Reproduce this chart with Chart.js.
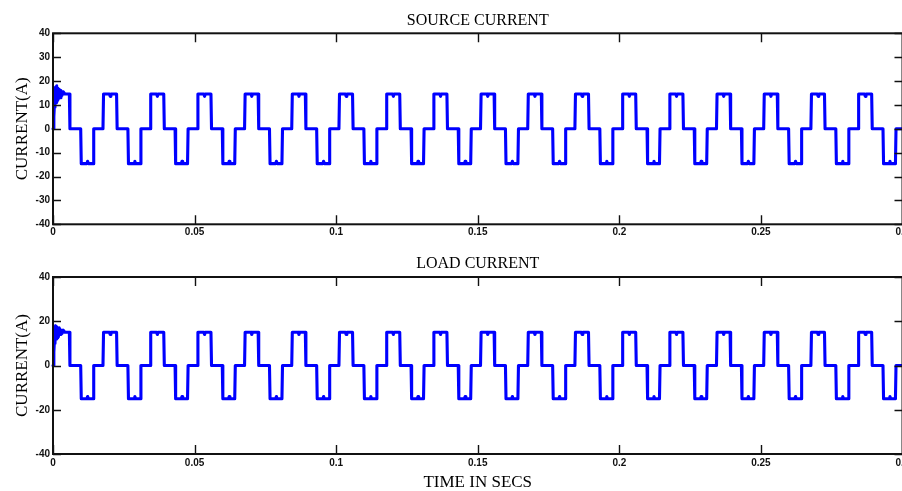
<!DOCTYPE html>
<html>
<head>
<meta charset="utf-8">
<script src="https://cdn.jsdelivr.net/npm/chart.js@4.4.1/dist/chart.umd.min.js"></script>
<style>
  html, body { margin: 0; padding: 0; background: #fff; overflow: hidden; width: 902px; height: 491px; }
  canvas { position: absolute; left: 0; }
  #sourceChart { top: 0; }
  #loadChart { top: 250px; }
</style>
</head>
<body>
<canvas id="sourceChart" width="920" height="250"></canvas>
<canvas id="loadChart" width="920" height="250"></canvas>
<script>
// Sample times in milliseconds (corner points of the six-step current, 60 Hz)
const timeMs = [
  0, 0.3, 0.5, 0.7, 0.9, 1.1, 1.3, 1.5, 1.7, 1.9, 2.2, 2.5, 2.8, 3.2, 3.6, 4.2, 5.78, 5.98, 9.78, 9.98, 11.98, 12.23, 12.48, 14.18, 14.38,
  17.65, 17.85, 19.95, 20.2, 20.45, 22.45, 22.65, 26.45, 26.65, 28.65, 28.9, 29.15, 30.85, 31.05,
  34.31, 34.51, 36.61, 36.86, 37.11, 39.11, 39.31, 43.11, 43.31, 45.31, 45.56, 45.81, 47.51, 47.71,
  50.98, 51.18, 53.28, 53.53, 53.78, 55.78, 55.98, 59.78, 59.98, 61.98, 62.23, 62.48, 64.18, 64.38,
  67.65, 67.85, 69.95, 70.2, 70.45, 72.45, 72.65, 76.45, 76.65, 78.65, 78.9, 79.15, 80.85, 81.05,
  84.31, 84.51, 86.61, 86.86, 87.11, 89.11, 89.31, 93.11, 93.31, 95.31, 95.56, 95.81, 97.51, 97.71,
  100.98, 101.18, 103.28, 103.53, 103.78, 105.78, 105.98, 109.78, 109.98, 111.98, 112.23, 112.48, 114.18, 114.38,
  117.65, 117.85, 119.95, 120.2, 120.45, 122.45, 122.65, 126.45, 126.65, 128.65, 128.9, 129.15, 130.85, 131.05,
  134.31, 134.51, 136.61, 136.86, 137.11, 139.11, 139.31, 143.11, 143.31, 145.31, 145.56, 145.81, 147.51, 147.71,
  150.98, 151.18, 153.28, 153.53, 153.78, 155.78, 155.98, 159.78, 159.98, 161.98, 162.23, 162.48, 164.18, 164.38,
  167.65, 167.85, 169.95, 170.2, 170.45, 172.45, 172.65, 176.45, 176.65, 178.65, 178.9, 179.15, 180.85, 181.05,
  184.31, 184.51, 186.61, 186.86, 187.11, 189.11, 189.31, 193.11, 193.31, 195.31, 195.56, 195.81, 197.51, 197.71,
  200.98, 201.18, 203.28, 203.53, 203.78, 205.78, 205.98, 209.78, 209.98, 211.98, 212.23, 212.48, 214.18, 214.38,
  217.65, 217.85, 219.95, 220.2, 220.45, 222.45, 222.65, 226.45, 226.65, 228.65, 228.9, 229.15, 230.85, 231.05,
  234.31, 234.51, 236.61, 236.86, 237.11, 239.11, 239.31, 243.11, 243.31, 245.31, 245.56, 245.81, 247.51, 247.71,
  250.98, 251.18, 253.28, 253.53, 253.78, 255.78, 255.98, 259.78, 259.98, 261.98, 262.23, 262.48, 264.18, 264.38,
  267.65, 267.85, 269.95, 270.2, 270.45, 272.45, 272.65, 276.45, 276.65, 278.65, 278.9, 279.15, 280.85, 281.05,
  284.31, 284.51, 286.61, 286.86, 287.11, 289.11, 289.31, 293.11, 293.31, 295.31, 295.56, 295.81, 297.51, 297.71,
  300
];

// Source current (A) at each sample time
const sourceCurrent = [
  0, 5, 10, 9, 17.5, 11, 18, 12, 17, 12.5, 16.5, 13, 16, 14, 15.5, 14.6, 14.6, 0, 0, -14.6, -14.6, -13.6, -14.6, -14.6, 0,
  0, 14.6, 14.6, 13.6, 14.6, 14.6, 0, 0, -14.6, -14.6, -13.6, -14.6, -14.6, 0,
  0, 14.6, 14.6, 13.6, 14.6, 14.6, 0, 0, -14.6, -14.6, -13.6, -14.6, -14.6, 0,
  0, 14.6, 14.6, 13.6, 14.6, 14.6, 0, 0, -14.6, -14.6, -13.6, -14.6, -14.6, 0,
  0, 14.6, 14.6, 13.6, 14.6, 14.6, 0, 0, -14.6, -14.6, -13.6, -14.6, -14.6, 0,
  0, 14.6, 14.6, 13.6, 14.6, 14.6, 0, 0, -14.6, -14.6, -13.6, -14.6, -14.6, 0,
  0, 14.6, 14.6, 13.6, 14.6, 14.6, 0, 0, -14.6, -14.6, -13.6, -14.6, -14.6, 0,
  0, 14.6, 14.6, 13.6, 14.6, 14.6, 0, 0, -14.6, -14.6, -13.6, -14.6, -14.6, 0,
  0, 14.6, 14.6, 13.6, 14.6, 14.6, 0, 0, -14.6, -14.6, -13.6, -14.6, -14.6, 0,
  0, 14.6, 14.6, 13.6, 14.6, 14.6, 0, 0, -14.6, -14.6, -13.6, -14.6, -14.6, 0,
  0, 14.6, 14.6, 13.6, 14.6, 14.6, 0, 0, -14.6, -14.6, -13.6, -14.6, -14.6, 0,
  0, 14.6, 14.6, 13.6, 14.6, 14.6, 0, 0, -14.6, -14.6, -13.6, -14.6, -14.6, 0,
  0, 14.6, 14.6, 13.6, 14.6, 14.6, 0, 0, -14.6, -14.6, -13.6, -14.6, -14.6, 0,
  0, 14.6, 14.6, 13.6, 14.6, 14.6, 0, 0, -14.6, -14.6, -13.6, -14.6, -14.6, 0,
  0, 14.6, 14.6, 13.6, 14.6, 14.6, 0, 0, -14.6, -14.6, -13.6, -14.6, -14.6, 0,
  0, 14.6, 14.6, 13.6, 14.6, 14.6, 0, 0, -14.6, -14.6, -13.6, -14.6, -14.6, 0,
  0, 14.6, 14.6, 13.6, 14.6, 14.6, 0, 0, -14.6, -14.6, -13.6, -14.6, -14.6, 0,
  0, 14.6, 14.6, 13.6, 14.6, 14.6, 0, 0, -14.6, -14.6, -13.6, -14.6, -14.6, 0,
  0
];

// Load current (A) at each sample time
const loadCurrent = [
  0, 6, 11, 10, 18, 12, 17.5, 12.5, 16.5, 13, 17, 14, 16, 14.5, 16, 15, 15, 0, 0, -15, -15, -14, -15, -15, 0,
  0, 15, 15, 14, 15, 15, 0, 0, -15, -15, -14, -15, -15, 0,
  0, 15, 15, 14, 15, 15, 0, 0, -15, -15, -14, -15, -15, 0,
  0, 15, 15, 14, 15, 15, 0, 0, -15, -15, -14, -15, -15, 0,
  0, 15, 15, 14, 15, 15, 0, 0, -15, -15, -14, -15, -15, 0,
  0, 15, 15, 14, 15, 15, 0, 0, -15, -15, -14, -15, -15, 0,
  0, 15, 15, 14, 15, 15, 0, 0, -15, -15, -14, -15, -15, 0,
  0, 15, 15, 14, 15, 15, 0, 0, -15, -15, -14, -15, -15, 0,
  0, 15, 15, 14, 15, 15, 0, 0, -15, -15, -14, -15, -15, 0,
  0, 15, 15, 14, 15, 15, 0, 0, -15, -15, -14, -15, -15, 0,
  0, 15, 15, 14, 15, 15, 0, 0, -15, -15, -14, -15, -15, 0,
  0, 15, 15, 14, 15, 15, 0, 0, -15, -15, -14, -15, -15, 0,
  0, 15, 15, 14, 15, 15, 0, 0, -15, -15, -14, -15, -15, 0,
  0, 15, 15, 14, 15, 15, 0, 0, -15, -15, -14, -15, -15, 0,
  0, 15, 15, 14, 15, 15, 0, 0, -15, -15, -14, -15, -15, 0,
  0, 15, 15, 14, 15, 15, 0, 0, -15, -15, -14, -15, -15, 0,
  0, 15, 15, 14, 15, 15, 0, 0, -15, -15, -14, -15, -15, 0,
  0, 15, 15, 14, 15, 15, 0, 0, -15, -15, -14, -15, -15, 0,
  0
];

// Axis ticks
const timeTicks = [0, 50, 100, 150, 200, 250, 300];
const timeTickLabels = ['0', '0.05', '0.1', '0.15', '0.2', '0.25', '0.3'];
const sourceTicks = [-40, -30, -20, -10, 0, 10, 20, 30, 40];
const loadTicks = [-40, -20, 0, 20, 40];

const tickFont = { family: 'Liberation Sans', size: 10, weight: 'bold' };
const serif = 'Liberation Serif';

// Boxed frame with inward tick marks on all four sides
const boxFrame = {
  id: 'boxFrame',
  afterDatasetsDraw(chart) {
    const { ctx, chartArea: a, scales: { x, y } } = chart;
    ctx.save();
    ctx.strokeStyle = '#111';
    ctx.lineWidth = 1.4;
    ctx.beginPath();
    x.ticks.forEach(t => {
      const px = Math.round(x.getPixelForValue(t.value)) + 0.5;
      ctx.moveTo(px, a.bottom); ctx.lineTo(px, a.bottom - 9);
      ctx.moveTo(px, a.top); ctx.lineTo(px, a.top + 9);
    });
    y.ticks.forEach(t => {
      const py = Math.round(y.getPixelForValue(t.value)) + 0.5;
      ctx.moveTo(a.left, py); ctx.lineTo(a.left + 8, py);
      ctx.moveTo(a.right, py); ctx.lineTo(a.right - 8, py);
    });
    ctx.stroke();
    ctx.lineWidth = 2;
    ctx.strokeRect(a.left, a.top, a.right - a.left, a.bottom - a.top);
    ctx.restore();
  }
};

function makeChart(canvasId, title, values, yTicks, opts) {
  return new Chart(document.getElementById(canvasId), {
    type: 'line',
    data: {
      datasets: [{
        data: timeMs.map((t, i) => ({ x: t, y: values[i] })),
        borderColor: '#0000ff',
        borderWidth: 3.1,
        borderJoinStyle: 'round',
        borderCapStyle: 'round',
        pointRadius: 0,
        tension: 0,
        fill: false,
        clip: 3
      }]
    },
    options: {
      responsive: false,
      animation: false,
      devicePixelRatio: 1,
      layout: { padding: { left: 0, right: 17.5, top: 0, bottom: 0 } },
      plugins: {
        legend: { display: false },
        tooltip: { enabled: false },
        title: {
          display: true,
          text: title,
          fullSize: false,
          color: '#000',
          font: { family: serif, size: 16, weight: 'normal' },
          padding: opts.titlePadding
        }
      },
      scales: {
        x: {
          type: 'linear',
          min: 0,
          max: 300,
          afterBuildTicks: s => { s.ticks = timeTicks.map(v => ({ value: v })); },
          afterFit: s => { s.height = opts.xHeight; },
          grid: { display: false, drawTicks: false },
          border: { display: false },
          ticks: {
            color: '#111',
            font: tickFont,
            padding: opts.xTickPad,
            maxRotation: 0,
            autoSkip: false,
            callback: v => timeTickLabels[timeTicks.indexOf(v)]
          },
          title: {
            display: !!opts.xTitle,
            text: opts.xTitle || '',
            color: '#000',
            font: { family: serif, size: 17, weight: 'normal' },
            padding: { top: 0, bottom: 6.8 }
          }
        },
        y: {
          type: 'linear',
          min: -40,
          max: 40,
          afterBuildTicks: s => { s.ticks = yTicks.map(v => ({ value: v })); },
          afterFit: s => { s.width = 53; },
          grid: { display: false, drawTicks: false },
          border: { display: false },
          ticks: {
            color: '#111',
            font: tickFont,
            padding: 3,
            autoSkip: false,
            callback: v => String(v)
          },
          title: {
            display: true,
            text: 'CURRENT(A)',
            color: '#000',
            font: { family: serif, size: 17, weight: 'normal' },
            padding: { top: 12, bottom: 0 }
          }
        }
      }
    },
    plugins: [boxFrame]
  });
}

makeChart('sourceChart', 'SOURCE CURRENT', sourceCurrent, sourceTicks, {
  titlePadding: { top: 11.4, bottom: 2.7 },
  xHeight: 25.7,
  xTickPad: 2
});

makeChart('loadChart', 'LOAD CURRENT', loadCurrent, loadTicks, {
  titlePadding: { top: 4.4, bottom: 3.4 },
  xHeight: 46,
  xTickPad: 3,
  xTitle: 'TIME IN SECS'
});
</script>
</body>
</html>
